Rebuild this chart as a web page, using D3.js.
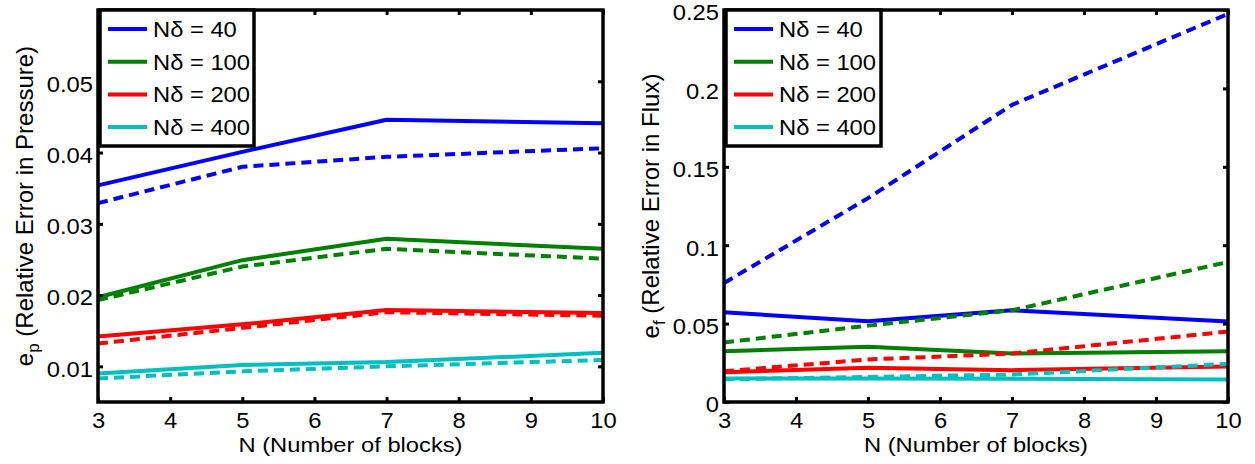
<!DOCTYPE html>
<html>
<head>
<meta charset="utf-8">
<script src="https://cdn.jsdelivr.net/npm/d3@7"></script>
<style>
  body { margin: 0; background: #fff; }
  text { font-family: "Liberation Sans", Arial, Helvetica, sans-serif; fill: #000; }
</style>
</head>
<body>
<svg id="chart" width="1255" height="464"></svg>
<script>
// Number of blocks on the x axis
const blocks = [3, 5, 7, 10];
const xTicks = [3, 4, 5, 6, 7, 8, 9, 10];

// Legend entries and line colours (one per N·δ resolution)
const legendLabels = ["Nδ = 40", "Nδ = 100", "Nδ = 200", "Nδ = 400"];
const colors = ["#0000ff", "#008000", "#ff0000", "#00bfbf"];

// Relative error in pressure: solid and dashed curves
const pressure40  = [0.0354, 0.0401, 0.0446, 0.0441];
const pressure100 = [0.0197, 0.0249, 0.0279, 0.0265];
const pressure200 = [0.0142, 0.0159, 0.0179, 0.0175];
const pressure400 = [0.0090, 0.0102, 0.0106, 0.0119];
const pressure40Dashed  = [0.0329, 0.0380, 0.0394, 0.0406];
const pressure100Dashed = [0.0193, 0.0240, 0.0265, 0.0251];
const pressure200Dashed = [0.0132, 0.0154, 0.0176, 0.0171];
const pressure400Dashed = [0.0083, 0.0093, 0.0100, 0.0109];
const pressureTicks = [0.01, 0.02, 0.03, 0.04, 0.05];
const pressureTickLabels = ["0.01", "0.02", "0.03", "0.04", "0.05"];

// Relative error in flux: solid and dashed curves
const flux40  = [0.0572, 0.0515, 0.0585, 0.0513];
const flux100 = [0.0324, 0.0352, 0.0309, 0.0324];
const flux200 = [0.0190, 0.0218, 0.0203, 0.0226];
const flux400 = [0.0150, 0.0150, 0.0148, 0.0143];
const flux40Dashed  = [0.0759, 0.1300, 0.1895, 0.2475];
const flux100Dashed = [0.0380, 0.0487, 0.0585, 0.0893];
const flux200Dashed = [0.0196, 0.0271, 0.0309, 0.0449];
const flux400Dashed = [0.0145, 0.0160, 0.0175, 0.0243];
const fluxTicks = [0, 0.05, 0.1, 0.15, 0.2, 0.25];
const fluxTickLabels = ["0", "0.05", "0.1", "0.15", "0.2", "0.25"];

const svg = d3.select("#chart");
const FONT = 22;      // text size
const STRETCH = 1.08; // horizontal widening of the glyphs
const LABEL_FONT = 24;

function drawPanel(cfg) {
  const g = svg.append("g");
  const x = d3.scaleLinear().domain([3, 10]).range([cfg.left, cfg.right]);
  const y = d3.scaleLinear().domain(cfg.yDomain).range([cfg.bottom, cfg.top]);

  const line = d3.line().x((d, i) => x(blocks[i])).y(d => y(d));

  // solid curves first, dashed curves on top
  cfg.solid.forEach((s, i) => {
    g.append("path").datum(s).attr("d", line)
      .attr("fill", "none").attr("stroke", colors[i])
      .attr("stroke-width", 4).attr("stroke-linejoin", "round");
  });
  cfg.dashed.forEach((s, i) => {
    g.append("path").datum(s).attr("d", line)
      .attr("fill", "none").attr("stroke", colors[i])
      .attr("stroke-width", 4).attr("stroke-dasharray", "10,6");
  });

  const styleAxis = (sel) => {
    sel.select(".domain").remove();
    sel.selectAll(".tick line").attr("stroke", "#000").attr("stroke-width", 3);
    sel.selectAll(".tick text").attr("font-size", FONT).attr("fill", "#000")
      .attr("font-family", "Liberation Sans, Arial, sans-serif")
      .attr("transform", `scale(${STRETCH},1)`);
  };

  // bottom & left axes with labels, ticks pointing inward
  g.append("g").attr("transform", `translate(0,${cfg.bottom})`)
    .call(d3.axisBottom(x).tickValues(xTicks).tickFormat(d3.format("d"))
      .tickSizeInner(-5).tickSizeOuter(0).tickPadding(10))
    .call(styleAxis);
  const ly = g.append("g").attr("transform", `translate(${cfg.left},0)`)
    .call(d3.axisLeft(y).tickValues(cfg.yTicks)
      .tickFormat((d, i) => cfg.yTickLabels[i])
      .tickSizeInner(-5).tickSizeOuter(0).tickPadding(5))
    .call(styleAxis);
  ly.selectAll(".tick text").attr("x", -5 / STRETCH).attr("dy", "0.45em");
  // mirrored ticks on top & right
  g.append("g").attr("transform", `translate(0,${cfg.top})`)
    .call(d3.axisTop(x).tickValues(xTicks).tickFormat(() => "")
      .tickSizeInner(-5).tickSizeOuter(0))
    .call(styleAxis);
  g.append("g").attr("transform", `translate(${cfg.right},0)`)
    .call(d3.axisRight(y).tickValues(cfg.yTicks).tickFormat(() => "")
      .tickSizeInner(-5).tickSizeOuter(0))
    .call(styleAxis);

  // axes box
  g.append("rect")
    .attr("x", cfg.left).attr("y", cfg.top)
    .attr("width", cfg.right - cfg.left).attr("height", cfg.bottom - cfg.top)
    .attr("fill", "none").attr("stroke", "#000").attr("stroke-width", 3.5);

  // x label
  g.append("text")
    .attr("transform", `translate(${(cfg.left + cfg.right) / 2},452) scale(1.13,1)`)
    .attr("text-anchor", "middle").attr("font-size", 21)
    .text("N (Number of blocks)");

  // y label with subscript
  const yl = g.append("text")
    .attr("transform", `translate(${cfg.left - 65},${(cfg.top + cfg.bottom) / 2}) rotate(-90)`)
    .attr("text-anchor", "middle").attr("font-size", LABEL_FONT);
  yl.append("tspan").text("e");
  yl.append("tspan").attr("dy", 6).attr("font-size", 17).text(cfg.sub);
  yl.append("tspan").attr("dy", -6).text(" " + cfg.yLabel);

  // legend
  const lg = g.append("g").attr("transform", `translate(${cfg.left + 2},${cfg.top})`);
  lg.append("rect").attr("x", 0).attr("y", 0).attr("width", cfg.legendW).attr("height", 136)
    .attr("fill", "#fff").attr("stroke", "#000").attr("stroke-width", 3.5);
  legendLabels.forEach((lab, i) => {
    const cy = 19 + i * 32.7;
    lg.append("line").attr("x1", 8).attr("x2", 47).attr("y1", cy).attr("y2", cy)
      .attr("stroke", colors[i]).attr("stroke-width", 4);
    lg.append("text")
      .attr("transform", `translate(53,${cy}) scale(${STRETCH},1)`)
      .attr("dy", "0.36em").attr("font-size", FONT).text(lab);
  });
}

drawPanel({
  left: 98, right: 603, top: 10, bottom: 402,
  yDomain: [0.005, 0.06],
  yTicks: pressureTicks, yTickLabels: pressureTickLabels,
  solid: [pressure40, pressure100, pressure200, pressure400],
  dashed: [pressure40Dashed, pressure100Dashed, pressure200Dashed, pressure400Dashed],
  sub: "p", yLabel: "(Relative Error in Pressure)", legendW: 154
});

drawPanel({
  left: 724, right: 1228, top: 10, bottom: 402,
  yDomain: [0, 0.25],
  yTicks: fluxTicks, yTickLabels: fluxTickLabels,
  solid: [flux40, flux100, flux200, flux400],
  dashed: [flux40Dashed, flux100Dashed, flux200Dashed, flux400Dashed],
  sub: "f", yLabel: "(Relative Error in Flux)", legendW: 155
});
</script>
</body>
</html>
